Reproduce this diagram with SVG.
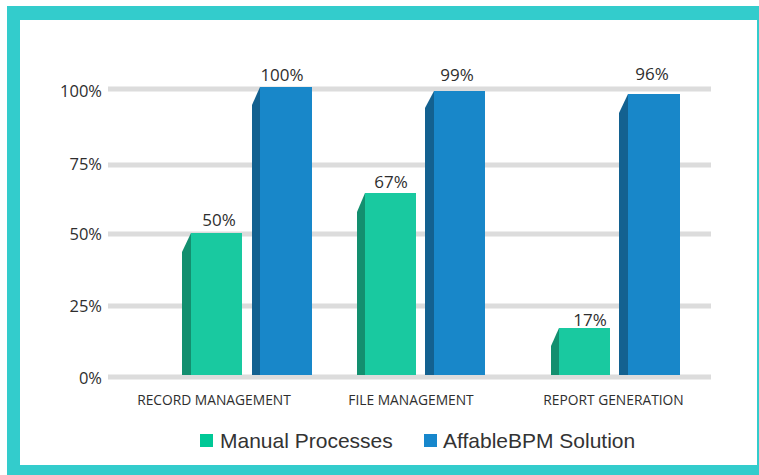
<svg xmlns="http://www.w3.org/2000/svg" width="759" height="475" viewBox="0 0 759 475">
<style>
.grid{fill:#dcdcdc}
.ylab{font-family:"Open Sans","Liberation Sans",sans-serif;font-size:16.5px;fill:#2e2e2e;text-anchor:end}
.val{font-family:"Open Sans","Liberation Sans",sans-serif;font-size:17px;fill:#2e2e2e;text-anchor:middle}
.cat{font-family:"Open Sans","Liberation Sans",sans-serif;font-size:13.8px;fill:#2e2e2e;text-anchor:middle}
.leg{font-family:"Liberation Sans",Arial,sans-serif;font-size:21px;fill:#333}
.gf{fill:#19c9a0}
.gs{fill:#138f6f}
.bf{fill:#1887c9}
.bs{fill:#136190}
</style>
<rect x="0" y="0" width="759" height="475" fill="#ffffff"/>
<rect x="7" y="6" width="752" height="469" fill="#33cccc"/>
<rect x="20" y="20" width="737" height="445" fill="#ffffff"/>
<g id="grid">
<rect class="grid" x="108" y="86.5" width="603" height="5"/>
<rect class="grid" x="108" y="162.5" width="603" height="5"/>
<rect class="grid" x="108" y="231.5" width="603" height="5"/>
<rect class="grid" x="108" y="303.5" width="603" height="5"/>
<rect class="grid" x="108" y="374.5" width="603" height="5"/>
</g>
<g id="yaxis">
<text class="ylab" x="102" y="97">100%</text>
<text class="ylab" x="102" y="170">75%</text>
<text class="ylab" x="102" y="240">50%</text>
<text class="ylab" x="102" y="312">25%</text>
<text class="ylab" x="102" y="384">0%</text>
</g>
<g id="bar-record-manual">
<polygon class="gs" points="182,375 182,252 191,233 191,375"/>
<rect class="gf" x="191" y="233" width="51" height="142"/>
<text class="val" x="219" y="226">50%</text>
</g>
<g id="bar-record-bpm">
<polygon class="bs" points="252,375 252,105 260,87 260,375"/>
<rect class="bf" x="260" y="87" width="52" height="288"/>
<text class="val" x="282" y="81">100%</text>
</g>
<g id="bar-file-manual">
<polygon class="gs" points="357,375 357,212 365,193 365,375"/>
<rect class="gf" x="365" y="193" width="51" height="182"/>
<text class="val" x="391" y="188">67%</text>
</g>
<g id="bar-file-bpm">
<polygon class="bs" points="425,375 425,108 434,91 434,375"/>
<rect class="bf" x="434" y="91" width="51" height="284"/>
<text class="val" x="457" y="81">99%</text>
</g>
<g id="bar-report-manual">
<polygon class="gs" points="551,375 551,346 559,328 559,375"/>
<rect class="gf" x="559" y="328" width="51" height="47"/>
<text class="val" x="590" y="326">17%</text>
</g>
<g id="bar-report-bpm">
<polygon class="bs" points="619,375 619,113 628,94 628,375"/>
<rect class="bf" x="628" y="94" width="52" height="281"/>
<text class="val" x="652" y="80">96%</text>
</g>
<g id="categories">
<text class="cat" x="214" y="405">RECORD MANAGEMENT</text>
<text class="cat" x="411" y="405">FILE MANAGEMENT</text>
<text class="cat" x="613.5" y="405">REPORT GENERATION</text>
</g>
<g id="legend">
<rect x="200" y="434" width="13" height="13" fill="#00c896"/>
<text class="leg" x="220" y="448">Manual Processes</text>
<rect x="424" y="434" width="13" height="13" fill="#1787cc"/>
<text class="leg" x="443" y="448">AffableBPM Solution</text>
</g>
</svg>
